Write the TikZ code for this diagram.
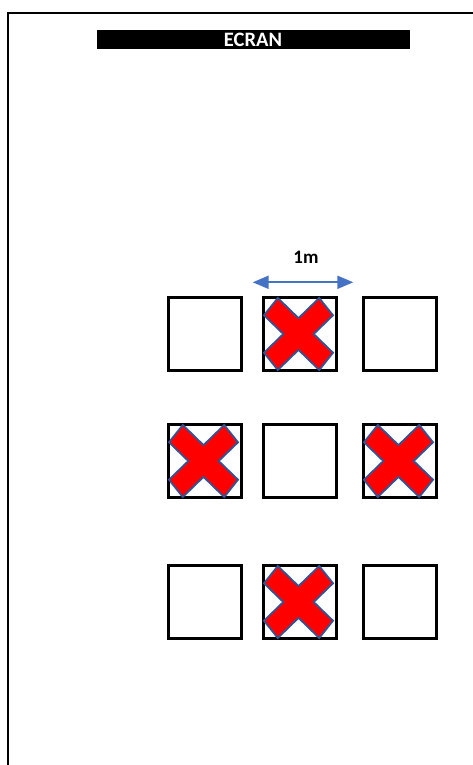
\documentclass[tikz,border=0pt]{standalone}
\usepackage{fontspec}
\setmainfont{Carlito}
\usetikzlibrary{arrows.meta,positioning}
\definecolor{scrblue}{HTML}{4472C4}
\definecolor{xedge}{HTML}{2F5597}
\definecolor{xred}{HTML}{FF0000}

\begin{document}
\begin{tikzpicture}[
  x=1pt, y=-1pt,
  seat/.style={draw=black, line width=2.6pt, fill=white,
               minimum size=73pt, inner sep=0pt},
  bar/.style={fill=black, minimum width=313pt, minimum height=19pt,
              inner sep=0pt, text=white, font=\fontsize{20.5}{20}\selectfont\bfseries},
  lbl/.style={font=\fontsize{19}{20}\selectfont\bfseries, text=black},
  xmark/.pic={
    \filldraw[fill=xred, draw=xedge, line width=1.8pt, line join=miter,
              x=34.5pt, y=36pt]
      (-0.6,-1) -- (0,-0.44) -- (0.6,-1) -- (1,-0.52) -- (0.44,0)
      -- (1,0.52) -- (0.6,1) -- (0,0.44) -- (-0.6,1) -- (-1,0.52)
      -- (-0.44,0) -- (-1,-0.52) -- cycle;
  },
]
\useasboundingbox (0,0) rectangle (473,765);

%% ---- frame ----
\draw[line width=2pt] (7.5,765) -- (7.5,13) -- (473,13);

%% ---- screen ----
\node[bar] (ecran) at (253,39.7) {ECRAN};

%% ---- seats (row r, column c) ----
\node[seat] (s11) at (205,334) {};
\node[seat] (s12) at (300,334) {};
\node[seat] (s13) at (400,334) {};
\node[seat] (s21) at (205,461) {};
\node[seat] (s22) at (300,461) {};
\node[seat] (s23) at (400,461) {};
\node[seat] (s31) at (205,602) {};
\node[seat] (s32) at (300,602) {};
\node[seat] (s33) at (400,602) {};

%% ---- crossed-out seats ----
\pic[xshift=-1.5pt] at (s12) {xmark};
\pic[xshift=-1.5pt] at (s21) {xmark};
\pic[xshift=-1.5pt] at (s23) {xmark};
\pic[xshift=-1.5pt] at (s32) {xmark};

%% ---- spacing arrow ----
\coordinate (gapL) at (252.7,282.3);
\coordinate (gapR) at (353.3,282.3);
\draw[{Triangle[length=16pt,width=13pt]}-{Triangle[length=16pt,width=13pt]},
      scrblue, line width=2pt] (gapL) -- (gapR);
\node[lbl] (dist) at (306,257) {1m};

\end{tikzpicture}
\end{document}
